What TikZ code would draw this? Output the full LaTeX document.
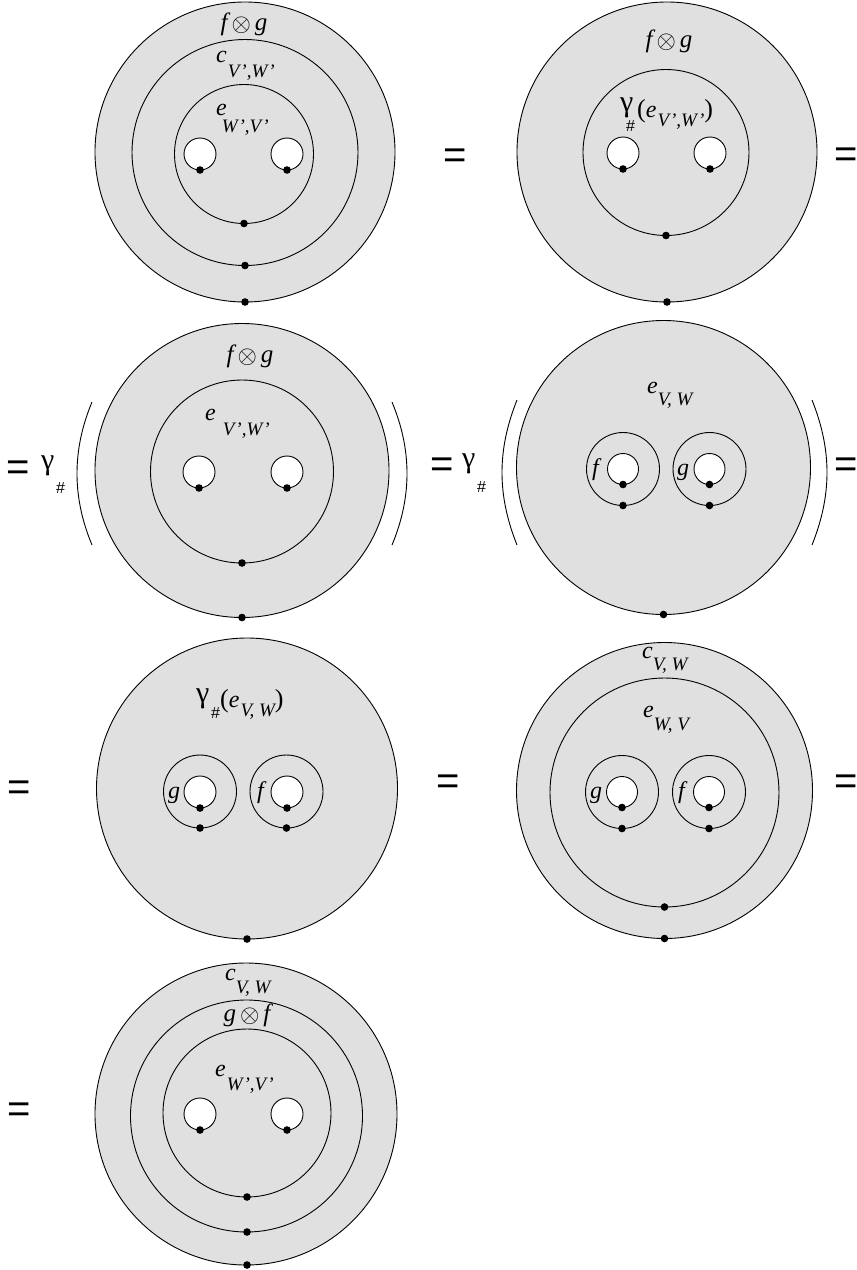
\documentclass[tikz,border=0pt]{standalone}
\usepackage{fontspec}
\setmainfont{Liberation Serif}
\newfontfamily\mysansf{Liberation Sans}
\definecolor{shade}{HTML}{E0E0E0}
\newcommand{\myMn}{\fontsize{24}{26}\selectfont\itshape}
\newcommand{\myBg}{\fontsize{25}{27}\selectfont\itshape}
\newcommand{\mySb}{\fontsize{19}{20}\selectfont\itshape}
\newcommand{\myOt}{{\fontsize{28}{28}\selectfont$\otimes$}}
\newcommand{\myEq}{{\fontsize{40}{40}\selectfont\mysansf =}}
\newcommand{\myGa}{{\fontsize{30}{30}\selectfont\upshape γ}}
\newcommand{\myHs}{{\fontsize{16}{16}\selectfont\mysansf \#}}
\newcommand{\myPa}[1]{{\fontsize{26}{26}\selectfont\upshape #1}}
\newcommand{\mySub}[3]{\kern#1\raisebox{-#2}{\mySb #3}}
\newcommand{\myTens}[2]{{\myBg #1}\hspace{4pt}\raisebox{-1pt}{\myOt}\hspace{4pt}{\myBg #2}}
\begin{document}
\begin{tikzpicture}[x=1pt,y=-1pt,
  ring/.style={draw,line width=0.9pt,fill=shade},
  loopc/.style={draw,line width=0.9pt,fill=white},
  paren/.style={draw,line width=0.9pt},
  lbl/.style={anchor=base west,inner sep=0pt},
  clbl/.style={anchor=base,inner sep=0pt},
  eqs/.style={inner sep=0pt}]
\useasboundingbox (0,0) rectangle (857,1270);

% ---------- Panel 1 ----------
\draw[ring] (245,152) circle[radius=150];
\draw[ring] (245,152.5) circle[radius=113];
\draw[ring] (244,154) circle[radius=69.5];
\draw[loopc] (200,154) circle[radius=16];
\draw[loopc] (287,154) circle[radius=16];
\fill (200,170) circle[radius=3.8];
\fill (287,170) circle[radius=3.8];
\fill (244,223.5) circle[radius=3.8];
\fill (245,265.5) circle[radius=3.8];
\fill (245,302) circle[radius=3.8];
\node[clbl] (p1fg) at (244,30) {\myTens{f}{g}};
\node[lbl] (p1c) at (216,62) {{\myMn c}\mySub{1pt}{15pt}{V\kern1pt',W\kern1pt'}};
\node[lbl] (p1e) at (216,115) {{\myMn e}\mySub{-5pt}{17pt}{W\kern1pt',V\kern1pt'}};

\node[eqs] (eq1) at (455,159) {\myEq};
\node[eqs] (eq2) at (846,158) {\myEq};

% ---------- Panel 2 ----------
\draw[ring] (667,152) circle[radius=150];
\draw[ring] (666,152.5) circle[radius=83];
\draw[loopc] (623,153) circle[radius=16];
\draw[loopc] (710,153) circle[radius=16];
\fill (623,169) circle[radius=3.8];
\fill (710,169) circle[radius=3.8];
\fill (666,235.5) circle[radius=3.8];
\fill (667,302) circle[radius=3.8];
\node[clbl] (p2fg) at (669,47) {\myTens{f}{g}};
\node[lbl] (p2g) at (620,111) {\myGa};
\node[lbl] (p2h) at (626,131) {\myHs};
\node[lbl] (p2e) at (637,117) {\myPa{(}{\myMn e}\mySub{1pt}{9pt}{V\kern1pt',W\kern1pt'}\myPa{)}};

% ---------- Panel 3 ----------
\node[eqs] (eq3) at (18,471) {\myEq};
\node[lbl] (p3g) at (41,469) {\myGa};
\node[lbl] (p3h) at (56,493) {\myHs};
\draw[paren] (92,402) .. controls (72,450) and (72,497) .. (92,545);
\draw[paren] (392,402) .. controls (412,450) and (412,497) .. (392,545);
\draw[ring] (242,470.5) circle[radius=147];
\draw[ring] (242,471.5) circle[radius=91.5];
\draw[loopc] (199,472) circle[radius=16];
\draw[loopc] (287,472) circle[radius=16];
\fill (199,488) circle[radius=3.8];
\fill (287,488) circle[radius=3.8];
\fill (242,563) circle[radius=3.8];
\fill (242,617.5) circle[radius=3.8];
\node[clbl] (p3fg) at (250,362) {\myTens{f}{g}};
\node[lbl] (p3e) at (205,420) {{\myMn e}\mySub{7pt}{15pt}{V\kern1pt',W\kern1pt'}};

% ---------- Panel 4 ----------
\node[eqs] (eq4) at (442,468) {\myEq};
\node[lbl] (p4g) at (462,467) {\myGa};
\node[lbl] (p4h) at (477,492) {\myHs};
\draw[paren] (517,400) .. controls (497,450) and (497,495) .. (517,545);
\draw[paren] (812,400) .. controls (832,450) and (832,495) .. (812,545);
\draw[ring] (663.5,467.5) circle[radius=147];
\draw[ring] (623,469) circle[radius=36.5];
\draw[ring] (709.5,469) circle[radius=36.5];
\draw[loopc] (623,469) circle[radius=15.5];
\draw[loopc] (709.5,469) circle[radius=15.5];
\fill (623,484.5) circle[radius=3.8];
\fill (709.5,484.5) circle[radius=3.8];
\fill (623,505.5) circle[radius=3.8];
\fill (709.5,505.5) circle[radius=3.8];
\fill (663.5,614.5) circle[radius=3.8];
\node[lbl] (p4f) at (592,475) {\myMn f};
\node[lbl] (p4gl) at (677,475) {\myMn g};
\node[lbl] (p4e) at (647,393) {{\myMn e}\mySub{0pt}{12pt}{V, W}};
\node[eqs] (eq5) at (846,468) {\myEq};

% ---------- Panel 5 ----------
\node[eqs] (eq6) at (19,791) {\myEq};
\draw[ring] (247,788.5) circle[radius=150.5];
\draw[ring] (200,791.5) circle[radius=36.5];
\draw[ring] (286.5,791.5) circle[radius=36.5];
\draw[loopc] (200,792) circle[radius=16];
\draw[loopc] (287,792) circle[radius=16];
\fill (200,808) circle[radius=3.8];
\fill (287,808) circle[radius=3.8];
\fill (200,828) circle[radius=3.8];
\fill (286.5,828) circle[radius=3.8];
\fill (247,939) circle[radius=3.8];
\node[lbl] (p5gl) at (168,798) {\myMn g};
\node[lbl] (p5f) at (257,798) {\myMn f};
\node[lbl] (p5g) at (196,702) {\myGa};
\node[lbl] (p5h) at (211,718) {\myHs};
\node[lbl] (p5e) at (220,707) {\myPa{(}{\myMn e}\mySub{1pt}{9pt}{V, W}\myPa{)}};

% ---------- Panel 6 ----------
\node[eqs] (eq7) at (448,785) {\myEq};
\node[eqs] (eq8) at (846,785) {\myEq};
\draw[ring] (664.5,790.5) circle[radius=148];
\draw[ring] (664.5,792.5) circle[radius=114.5];
\draw[ring] (622,792) circle[radius=36.5];
\draw[ring] (709,792) circle[radius=36.5];
\draw[loopc] (622,792) circle[radius=15.5];
\draw[loopc] (709,792) circle[radius=15.5];
\fill (622,807.5) circle[radius=3.8];
\fill (709,807.5) circle[radius=3.8];
\fill (622,828.5) circle[radius=3.8];
\fill (709,828.5) circle[radius=3.8];
\fill (664.5,907) circle[radius=3.8];
\fill (664.5,938.5) circle[radius=3.8];
\node[lbl] (p6gl) at (590,798) {\myMn g};
\node[lbl] (p6f) at (678,798) {\myMn f};
\node[lbl] (p6c) at (642,658) {{\myMn c}\mySub{0pt}{12pt}{V, W}};
\node[lbl] (p6e) at (643,717) {{\myMn e}\mySub{0pt}{13pt}{W, V}};

% ---------- Panel 7 ----------
\node[eqs] (eq9) at (19,1113) {\myEq};
\draw[ring] (246,1114) circle[radius=151];
\draw[ring] (246.5,1116) circle[radius=116];
\draw[ring] (247,1113) circle[radius=84];
\draw[loopc] (200,1114) circle[radius=16];
\draw[loopc] (287,1114) circle[radius=16];
\fill (200,1130) circle[radius=3.8];
\fill (287,1130) circle[radius=3.8];
\fill (247,1197) circle[radius=3.8];
\fill (247,1232) circle[radius=3.8];
\fill (247,1265) circle[radius=3.8];
\node[lbl] (p7c) at (225,980) {{\myMn c}\mySub{0pt}{13pt}{V, W}};
\node[clbl] (p7gf) at (247,1021) {\myTens{g}{f}};
\node[lbl] (p7e) at (215,1076) {{\myMn e}\mySub{1pt}{14pt}{W\kern1pt',V\kern1pt'}};
\end{tikzpicture}
\end{document}
